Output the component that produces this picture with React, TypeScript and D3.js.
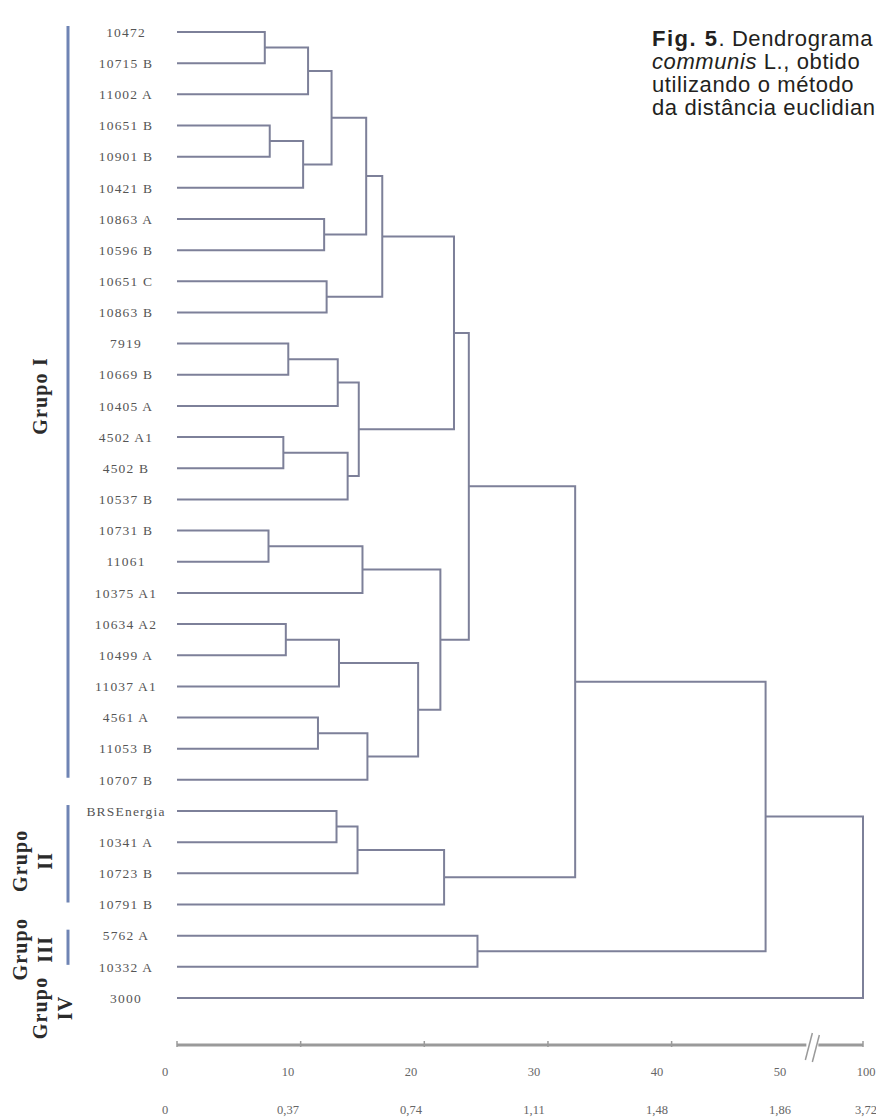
import React from 'react';
import * as d3 from 'd3';

// leaves, top to bottom
const leafLabels = [
  '10472', '10715 B', '11002 A', '10651 B', '10901 B', '10421 B', '10863 A', '10596 B',
  '10651 C', '10863 B', '7919', '10669 B', '10405 A', '4502 A1', '4502 B', '10537 B',
  '10731 B', '11061', '10375 A1', '10634 A2', '10499 A', '11037 A1', '4561 A', '11053 B',
  '10707 B', 'BRSEnergia', '10341 A', '10723 B', '10791 B', '5762 A', '10332 A', '3000',
];

// merges: ids < 32 are leaves, 32 + i is merge i
const mergePairs: [number, number][] = [
  [0, 1], [32, 2], [3, 4], [34, 5], [33, 35], [6, 7], [36, 37], [8, 9], [38, 39],
  [10, 11], [41, 12], [13, 14], [43, 15], [42, 44], [40, 45],
  [16, 17], [47, 18], [19, 20], [49, 21], [22, 23], [51, 24], [50, 52], [48, 53], [46, 54],
  [25, 26], [56, 27], [57, 28], [55, 58], [29, 30], [59, 60], [61, 31],
];
const mergeHeights = [
  7.1, 10.6, 7.5, 10.2, 12.5, 11.9, 15.3, 12.1, 16.6,
  9.0, 13.0, 8.6, 13.8, 14.7, 22.4,
  7.4, 15.0, 8.8, 13.1, 11.4, 15.4, 19.5, 21.3, 23.6,
  12.9, 14.6, 21.6, 32.2, 24.3, 47.6, 100,
];

const distanceTicks = [0, 10, 20, 30, 40, 50, 100];
const rescaledLabels = ['0', '0,37', '0,74', '1,11', '1,48', '1,86', '3,72'];
const tickMarks = [0, 10, 20, 30, 40, 100];
const breakAt = 51.3;

const groupLines = [['Grupo I'], ['Grupo', 'II'], ['Grupo', 'III'], ['Grupo', 'IV']];
const groupFirst = [0, 25, 29, 31];
const groupLast = [24, 28, 30, 31];

const treeColor = '#7d8099';
const serif = '"Liberation Serif", "Times New Roman", serif';
const sans = '"Liberation Sans", Arial, sans-serif';

export default function App() {
  const width = 876;
  const height = 1120;
  const n = leafLabels.length;

  const y = d3.scalePoint<number>().domain(d3.range(n)).range([32, 998]);
  const x = d3.scaleLinear().domain([0, 52, 100]).range([177, 820, 863]);
  const labelX = d3.scaleLinear().domain([0, 50, 100]).range([165, 780, 866]);

  const nodeY: number[] = leafLabels.map((_, i) => y(i) as number);
  const nodeH: number[] = leafLabels.map(() => 0);
  mergePairs.forEach(([a, b], i) => {
    nodeY.push((nodeY[a] + nodeY[b]) / 2);
    nodeH.push(mergeHeights[i]);
  });

  const elbows = mergePairs.map(([a, b], i) => {
    const h = x(mergeHeights[i]);
    return `M${x(nodeH[a])},${nodeY[a]}H${h}V${nodeY[b]}H${x(nodeH[b])}`;
  });

  const axisY = 1045;
  const bx = x(breakAt);

  // label columns for the rotated group names
  const groupCols = [[40], [20, 45], [20, 45], [40, 65]];
  const groupDy = [-10, 3, -2, 10];

  return (
    <svg
      width={width}
      height={height}
      style={{ position: 'absolute', left: 0, top: 0, background: '#fff' }}
    >
      {/* caption (cut by the right edge, as in the source page) */}
      <g fontFamily={sans} fontSize={22} fill="#231f20" letterSpacing={0.6}>
        <text x={652} y={46}>
          <tspan fontWeight="bold" letterSpacing={1.5}>Fig. 5</tspan>. Dendrograma
        </text>
        <text x={652} y={69}>
          <tspan fontStyle="italic">communis</tspan> L., obtido
        </text>
        <text x={652} y={92}>utilizando o método</text>
        <text x={652} y={115}>da distância euclidiana</text>
      </g>

      {/* group bars */}
      {groupFirst.map((f, i) =>
        groupLast[i] > f ? (
          <line
            key={'bar' + i}
            x1={68}
            x2={68}
            y1={nodeY[f] - 6}
            y2={nodeY[groupLast[i]] - 2}
            stroke="#6f84b4"
            strokeWidth={3}
          />
        ) : null
      )}

      {/* group names */}
      {groupLines.map((lines, i) => {
        const cy = (nodeY[groupFirst[i]] + nodeY[groupLast[i]]) / 2 + groupDy[i];
        return lines.map((t, j) => (
          <text
            key={'g' + i + j}
            transform={`translate(${groupCols[i][j]},${cy}) rotate(-90)`}
            textAnchor="middle"
            dy="0.35em"
            fontFamily={serif}
            fontWeight="bold"
            fontSize={20}
            letterSpacing={1.2}
            fill="#2b2b2b"
          >
            {t}
          </text>
        ));
      })}

      {/* leaf labels */}
      {leafLabels.map((l, i) => (
        <text
          key={l}
          x={126}
          y={nodeY[i]}
          dy="0.35em"
          textAnchor="middle"
          fontFamily={serif}
          fontSize={13.5}
          letterSpacing={1.2}
          fill="#555"
        >
          {l}
        </text>
      ))}

      {/* leaf stems and merges */}
      <g fill="none" stroke={treeColor} strokeWidth={2}>
        {elbows.map((d, i) => (
          <path key={'m' + i} d={d} />
        ))}
      </g>

      {/* axis */}
      <g stroke="#9a9a9a">
        <line x1={x(0)} x2={x(100)} y1={axisY} y2={axisY} strokeWidth={3} />
        {tickMarks.map(t => (
          <line key={'t' + t} x1={x(t)} x2={x(t)} y1={axisY - 4} y2={axisY + 2} strokeWidth={1.5} />
        ))}
        <rect x={bx - 5} y={axisY - 3} width={12} height={6} fill="#fff" stroke="none" />
        <line x1={bx - 6} y1={axisY + 15} x2={bx + 1} y2={axisY - 12} strokeWidth={1.5} />
        <line x1={bx + 1} y1={axisY + 17} x2={bx + 8} y2={axisY - 10} strokeWidth={1.5} />
      </g>
      <g fontFamily={serif} fontSize={12.5} fill="#666" textAnchor="middle">
        {distanceTicks.map(t => (
          <text key={'a' + t} x={labelX(t)} y={1072} dy="0.35em">
            {t}
          </text>
        ))}
        {distanceTicks.map((t, i) => (
          <text key={'b' + t} x={labelX(t)} y={1110} dy="0.35em">
            {rescaledLabels[i]}
          </text>
        ))}
      </g>
    </svg>
  );
}
